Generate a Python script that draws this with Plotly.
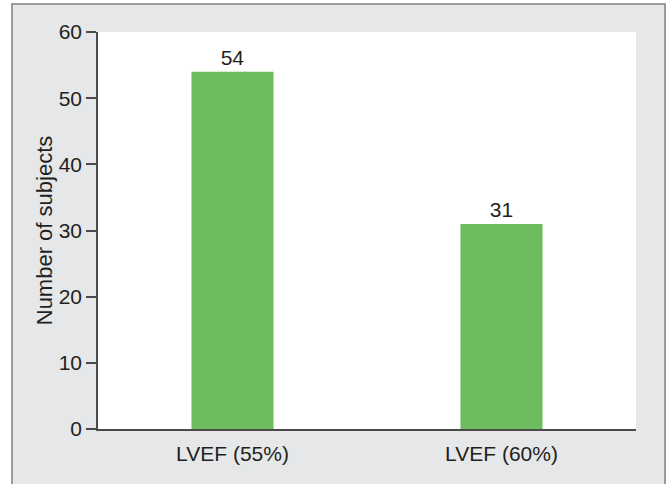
import plotly.graph_objects as go

categories = ["LVEF (55%)", "LVEF (60%)"]
values = [54, 31]
y_ticks = [0, 10, 20, 30, 40, 50, 60]

W, H = 668, 484
ml, mr, mt, mb = 98, 32, 32, 55
pw, ph = W - ml - mr, H - mt - mb

def px_x(x):
    return (x - ml) / pw

def px_y(y):
    return (H - mb - y) / ph

FONT = "Liberation Sans, Arial, sans-serif"
TXT = "#231f20"
FS = 21

fig = go.Figure()
fig.add_trace(go.Bar(
    x=categories, y=values,
    marker=dict(color="#6dbd5e", line=dict(width=0)),
    text=[str(v) for v in values], textposition="outside",
    textfont=dict(family=FONT, size=FS, color=TXT),
    cliponaxis=False,
))

fig.update_layout(
    width=W, height=H,
    margin=dict(l=ml, r=mr, t=mt, b=mb, pad=0),
    paper_bgcolor="white", plot_bgcolor="white",
    bargap=0.695, showlegend=False,
    font=dict(family=FONT, size=FS, color=TXT),
    shapes=[
        dict(type="rect", xref="paper", yref="paper", layer="below",
             x0=px_x(12), x1=px_x(665), y0=px_y(495), y1=px_y(4),
             fillcolor="#e6e7e8", line=dict(color="#9b9b9b", width=2)),
        dict(type="rect", xref="paper", yref="paper", layer="below",
             x0=0, x1=1, y0=0, y1=1, fillcolor="white", line=dict(width=0)),
    ],
)
fig.update_xaxes(
    showline=True, linecolor="#4a4a4a", linewidth=1.5,
    ticks="outside", ticklen=5, tickcolor="rgba(0,0,0,0)",
    showgrid=False, tickfont=dict(size=FS, color=TXT),
)
fig.update_yaxes(
    range=[0, 60], tickvals=y_ticks, showline=True, linecolor="#4a4a4a", linewidth=1.5,
    ticks="outside", ticklen=10, tickwidth=1.5, tickcolor="#4a4a4a",
    showgrid=False, zeroline=False, tickfont=dict(size=FS, color=TXT),
    title=dict(text="Number of subjects", font=dict(size=22, color=TXT), standoff=0),
)

fig.write_html(
    "out.html",
    config={"displayModeBar": False},
    post_script="document.body.style.margin='0px';document.body.style.padding='0px';",
)
